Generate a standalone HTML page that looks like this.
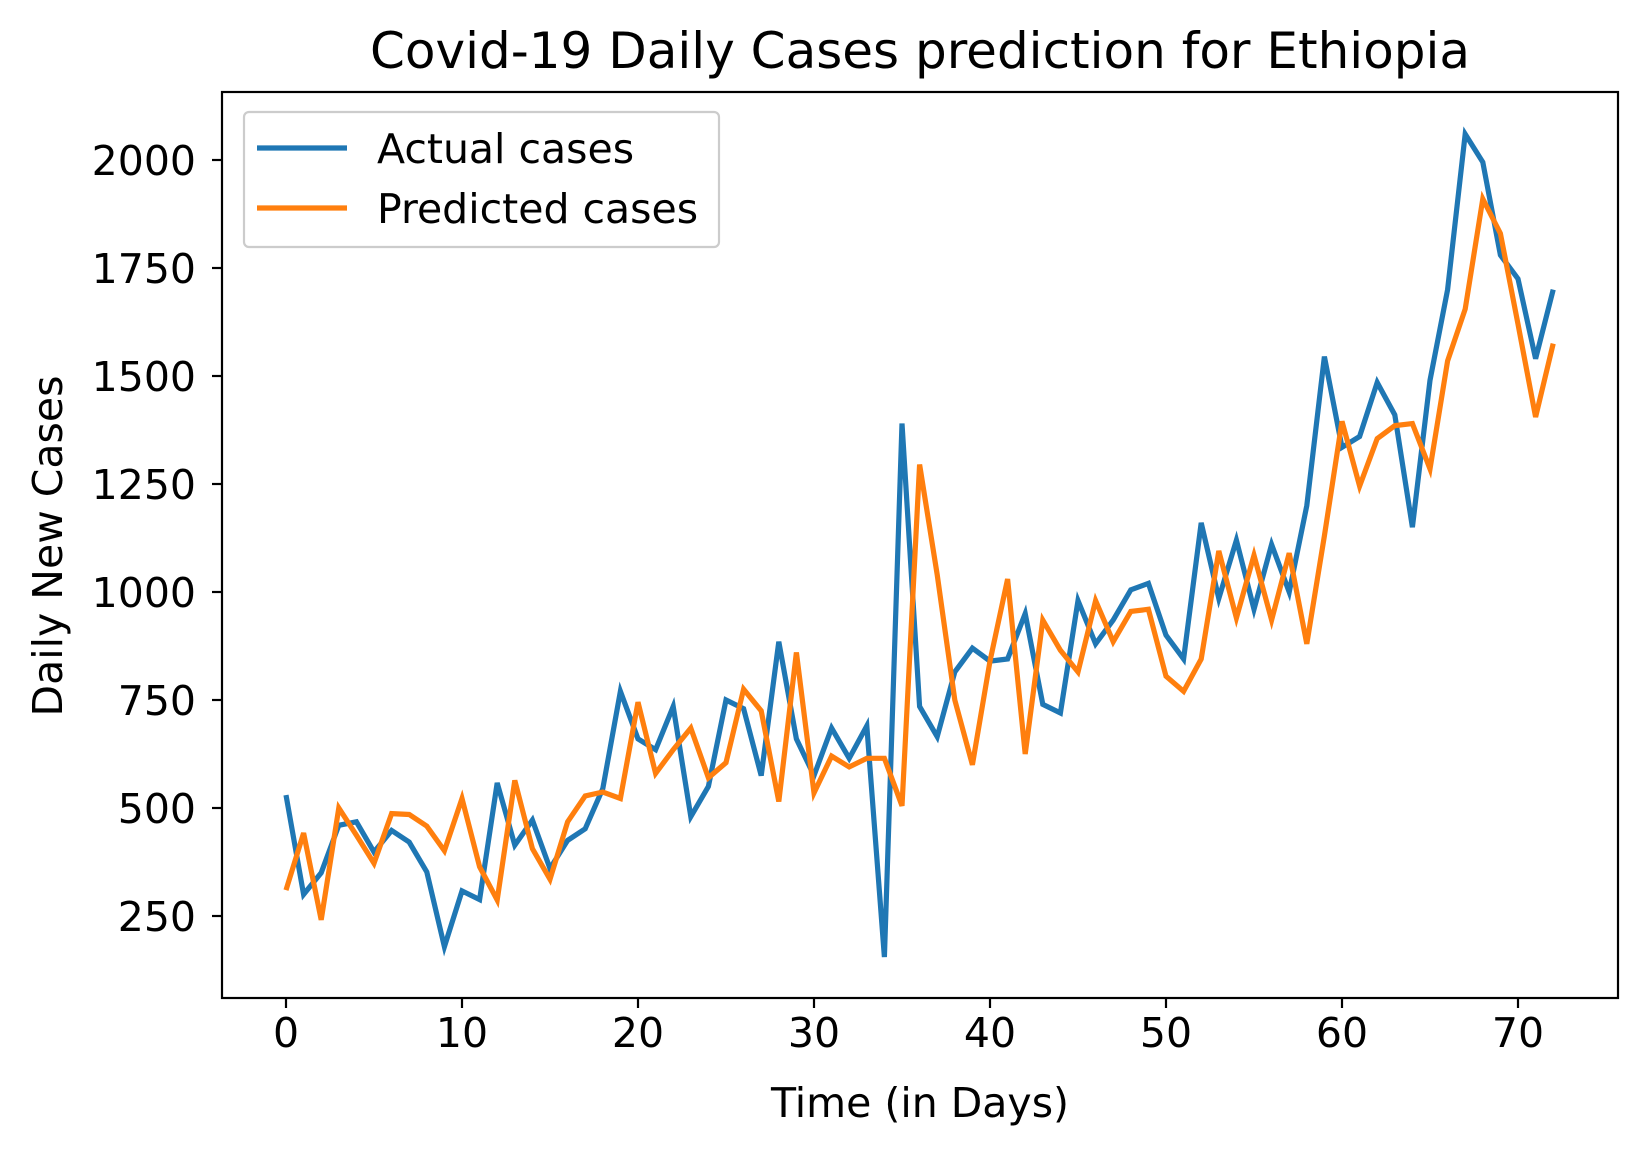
<!DOCTYPE html>
<html><head><meta charset="utf-8"><style>
body{margin:0;background:#fff;}
svg{display:block;font-family:"DejaVu Sans","Liberation Sans",sans-serif;}
</style></head><body>
<svg id="chart" width="1646" height="1154" viewBox="0 0 1646 1154" xmlns="http://www.w3.org/2000/svg">
<rect width="1646" height="1154" fill="#fff"/>
<text x="920" y="68" font-size="50" text-anchor="middle">Covid-19 Daily Cases prediction for Ethiopia</text>
<g id="xticks"></g><g id="yticks"></g>
<g id="series"></g>
<rect x="222" y="92" width="1396" height="906" fill="none" stroke="#000" stroke-width="2.2"/>
<text x="920" y="1117" font-size="41" text-anchor="middle">Time (in Days)</text>
<text x="0" y="0" font-size="41" text-anchor="middle" transform="translate(62,546) rotate(-90)">Daily New Cases</text>
<g>
<rect x="244" y="112" width="475" height="135" rx="5" fill="#fff" fill-opacity="0.8" stroke="#ccc" stroke-width="2.2"/>
<line x1="257" y1="148" x2="347" y2="148" stroke="#1f77b4" stroke-width="5.2"/>
<text x="377" y="163" font-size="41">Actual cases</text>
<line x1="257" y1="208" x2="347" y2="208" stroke="#ff7f0e" stroke-width="5.2"/>
<text x="377" y="223" font-size="41">Predicted cases</text>
</g>
</svg>
<script>
const actual=[530,300,350,460,468,398,448,421,352,179,308,288,558,414,472,360,425,452,545,770,660,635,735,480,550,750,730,575,885,660,575,685,615,690,155,1390,735,665,815,870,840,845,950,740,720,980,880,935,1005,1020,900,845,1160,985,1120,960,1110,1000,1200,1545,1335,1360,1485,1410,1150,1490,1700,2060,1995,1780,1725,1540,1700];
const predicted=[310,442,241,500,437,372,487,485,458,401,522,364,287,564,406,335,468,528,537,522,745,580,635,685,570,605,775,725,515,860,535,620,595,615,615,505,1295,1040,750,600,840,1030,625,935,865,815,980,885,955,960,805,770,845,1095,940,1085,935,1090,880,1130,1395,1245,1355,1385,1390,1285,1535,1655,1910,1830,1620,1405,1575];
const xTicks=[0,10,20,30,40,50,60,70];
const yTicks=[250,500,750,1000,1250,1500,1750,2000];
const NS="http://www.w3.org/2000/svg";
function xs(d){return 286+d*17.6;}
function ys(v){return 808-(v-500)*0.432;}
const xg=document.getElementById('xticks'),yg=document.getElementById('yticks'),sg=document.getElementById('series');
xTicks.forEach(t=>{
  const l=document.createElementNS(NS,'line');
  
  
  l.setAttribute('x1',xs(t));l.setAttribute('x2',xs(t));l.setAttribute('y1',998);l.setAttribute('y2',1008);l.setAttribute('stroke','#000');l.setAttribute('stroke-width','2.2');
  xg.appendChild(l);
  const tx=document.createElementNS(NS,'text');
  
  
  tx.setAttribute('x',xs(t));tx.setAttribute('y',1047);tx.setAttribute('font-size','41');tx.setAttribute('text-anchor','middle');
  tx.textContent=t;xg.appendChild(tx);
});
yTicks.forEach(t=>{
  const l=document.createElementNS(NS,'line');
  
  
  l.setAttribute('x1',212);l.setAttribute('x2',222);l.setAttribute('y1',ys(t));l.setAttribute('y2',ys(t));l.setAttribute('stroke','#000');l.setAttribute('stroke-width','2.2');
  yg.appendChild(l);
  const tx=document.createElementNS(NS,'text');
  
  
  tx.setAttribute('x',196);tx.setAttribute('y',ys(t)+15);tx.setAttribute('font-size','41');tx.setAttribute('text-anchor','end');
  tx.textContent=t;yg.appendChild(tx);
});
function line(arr,color,name){
  const p=document.createElementNS(NS,'polyline');
  
  
  p.setAttribute('points',arr.map((v,i)=>xs(i)+','+ys(v)).join(' '));
  p.setAttribute('fill','none');p.setAttribute('stroke',color);p.setAttribute('stroke-width','5.2');p.setAttribute('stroke-linejoin','miter');
  sg.appendChild(p);
}
line(actual,'#1f77b4','actual-cases-line');
line(predicted,'#ff7f0e','predicted-cases-line');
</script>
</body></html>
